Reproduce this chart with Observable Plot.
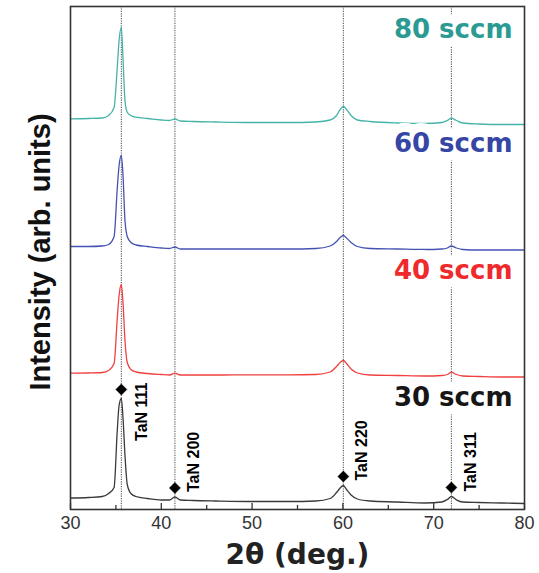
<!DOCTYPE html>
<html><head><meta charset="utf-8">
<script src="https://cdn.jsdelivr.net/npm/d3@7"></script>
<script src="https://cdn.jsdelivr.net/npm/@observablehq/plot@0.6"></script>
<style>
body{margin:0;background:#fff}
#chart{position:absolute;left:0;top:0}
</style>
</head><body><div id="chart"></div>
<script>
// 2θ sampling positions (deg)
const twoTheta = [30, 32, 33.5, 34.2, 34.8, 35.15, 35.35, 35.6, 35.8, 36.0, 36.25, 36.65, 37.2, 38.5, 40, 40.9, 41.5, 42.1, 43.5, 46, 50, 54, 57, 58.6, 59.3, 59.7, 60.05, 60.4, 60.9, 61.6, 63, 66, 69, 70.9, 71.5, 71.95, 72.5, 73.2, 75, 77.5, 80];
// stacked intensities (arb. units)
const int30 = [11.5, 12, 13, 16, 22, 79, 104, 111, 89, 54, 25, 16, 13, 11, 9.5, 9.5, 12.5, 9.5, 9, 8.5, 8, 8, 8.5, 11, 17, 21.5, 24, 20, 14.5, 10.5, 8.5, 7.5, 6.5, 7.5, 10, 13, 9.7, 7.5, 7, 6.5, 6];
const int40 = [136.3, 136.5, 137, 139, 146, 191, 214, 225, 204, 169, 147, 140, 137.5, 136, 135, 134.5, 136.3, 134.5, 134.5, 134.5, 134.7, 134.7, 135, 137.5, 143, 147, 149, 146, 140.5, 136.5, 134.5, 134, 133.5, 134, 135, 137.3, 135, 133.5, 133, 132.5, 132.5];
const int60 = [263, 263, 263.5, 265, 273, 321, 344, 354, 331, 289, 273, 267, 264.5, 263, 261.5, 261, 262.5, 260.5, 260.5, 260.5, 260.5, 260.5, 261, 263.5, 268, 272, 274, 271.5, 267, 263, 261, 260.5, 260, 260.5, 261.5, 263.5, 261.5, 260, 259.5, 259.5, 259.5];
const int80 = [390.7, 391, 391.5, 394, 402, 442, 469, 482, 447, 409, 397.3, 394, 392.3, 391, 389.5, 389, 390.5, 388.5, 388, 387.5, 387, 387, 387.5, 389.5, 394, 400, 403, 400, 394, 389.5, 388, 386.5, 386, 387, 389, 391.3, 389, 386.5, 385.5, 385, 385];

const seriesNames = ["30 sccm", "40 sccm", "60 sccm", "80 sccm"];
const seriesValues = [int30, int40, int60, int80];
const lineColors = ["#3a3a3a", "#f0403f", "#4452b4", "#45b3aa"];
const labelColors = ["#161616", "#ee2a2c", "#3546a5", "#2a9a92"];

const peakPositions = [35.6, 41.5, 60.05, 71.95];
const peakLabels = ["TaN 111", "TaN 200", "TaN 220", "TaN 311"];

const xTicks = [30, 40, 50, 60, 70, 80];
const xMinorTicks = [35, 45, 55, 65, 75];

const yTop = 503;
const rows = seriesNames.flatMap((s, i) => twoTheta.map((x, j) => ({series: s, x, y: seriesValues[i][j]})));
// label sits a fixed gap above each trace's right-hand baseline, kept inside the frame
const labels = seriesNames.map((s, i) => {
  const v = seriesValues[i];
  return {series: s, y: Math.min(v[v.length - 1] + 98, yTop - 31), color: labelColors[i]};
});
const peaks = peakPositions.map((p, i) => ({x: p, label: peakLabels[i], y: int30[twoTheta.indexOf(p)], main: i === 0}));

const wideFont = "'DejaVu Sans', sans-serif";
const arialFont = "'Liberation Sans', Arial, sans-serif";

const chart = Plot.plot({
  width: 539,
  height: 573,
  marginLeft: 70,
  marginRight: 15,
  marginTop: 6,
  marginBottom: 64,
  style: {fontFamily: arialFont, background: "white"},
  x: {domain: [30, 80]},
  y: {domain: [0, yTop], axis: null},
  color: {domain: seriesNames, range: lineColors},
  marks: [
    Plot.ruleX(peakPositions, {stroke: "#555", strokeWidth: 1.1, strokeDasharray: "1.2,1.2"}),
    Plot.line(rows, {x: "x", y: "y", z: "series", stroke: "series", strokeWidth: 1.3, curve: "monotone-x"}),
    Plot.text(labels, {frameAnchor: "right", dx: -12, y: "y", text: "series", fill: "color", lineAnchor: "bottom", textAnchor: "end",
      fontSize: 26, fontWeight: "bold", fontFamily: wideFont, stroke: "white", strokeWidth: 18, paintOrder: "stroke"}),
    Plot.dot(peaks, {x: "x", y: "y", dy: -9, symbol: "diamond2", r: 5, fill: "black", stroke: "black", strokeWidth: 0.5}),
    Plot.text(peaks.filter(d => !d.main), {x: "x", y: "y", dy: -5, dx: 19, text: "label", rotate: -90, textAnchor: "start", lineAnchor: "middle",
      fontSize: 16, fontWeight: "bold", fontFamily: arialFont, fill: "black"}),
    Plot.text(peaks.filter(d => d.main), {x: "x", y: "y", dy: -16, dx: 21, text: "label", rotate: -90, textAnchor: "end", lineAnchor: "middle",
      fontSize: 16, fontWeight: "bold", fontFamily: arialFont, fill: "black"}),
    Plot.frame({stroke: "#333", strokeWidth: 1.6}),
    Plot.axisX(xTicks, {tickSize: -6, text: null, label: null, stroke: "#333", strokeWidth: 1.3}),
    Plot.axisX(xMinorTicks, {tickSize: -4, text: null, label: null, stroke: "#333", strokeWidth: 1.3}),
    Plot.axisX(xTicks, {tickSize: 0, tickPadding: 7, label: null, fontSize: 18, fill: "#333"}),
    Plot.text(["2θ (deg.)"], {frameAnchor: "bottom", dy: 54, lineAnchor: "bottom", fontSize: 28, fontWeight: "bold",
      fontFamily: wideFont, fill: "#222"}),
    Plot.text(["Intensity (arb. units)"], {frameAnchor: "left", dx: -30, dy: -6, rotate: -90, textAnchor: "middle", lineAnchor: "middle", fontSize: 29,
      fontWeight: "bold", fontFamily: arialFont, fill: "#111"})
  ]
});
document.getElementById("chart").appendChild(chart);
</script>
</body></html>
